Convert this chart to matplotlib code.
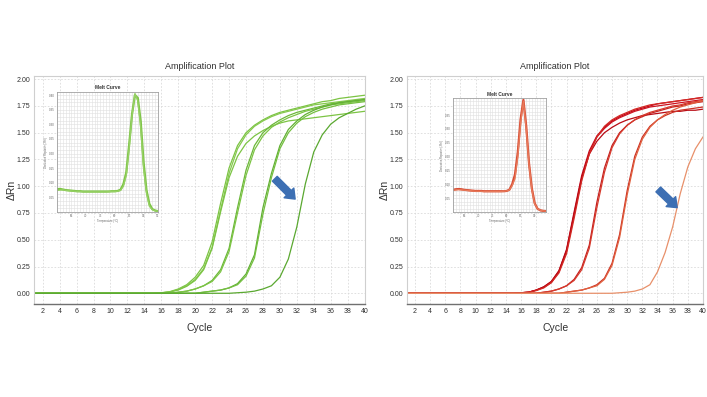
import numpy as np
import matplotlib.pyplot as plt
from matplotlib.patches import FancyArrowPatch
from matplotlib.ticker import FormatStrFormatter, MultipleLocator

plt.rcParams['font.family'] = ['Liberation Sans Narrow', 'Liberation Sans', 'DejaVu Sans']

cycles = list(range(1, 41))

# green run (left panel), delta Rn per cycle
green_a1 = [0, 0, 0, 0, 0, 0, 0, 0, 0, 0,
            0, 0, 0, 0, 0, 0.005, 0.015, 0.04, 0.08, 0.15,
            0.26, 0.48, 0.84, 1.17, 1.38, 1.50, 1.57, 1.62, 1.66, 1.69,
            1.71, 1.73, 1.75, 1.77, 1.79, 1.80, 1.82, 1.83, 1.84, 1.85]
green_a2 = [0, 0, 0, 0, 0, 0, 0, 0, 0, 0,
            0, 0, 0, 0, 0, 0.004, 0.012, 0.035, 0.07, 0.13,
            0.23, 0.43, 0.78, 1.12, 1.35, 1.48, 1.56, 1.61, 1.65, 1.68,
            1.70, 1.72, 1.74, 1.76, 1.77, 1.78, 1.79, 1.80, 1.81, 1.82]
green_a3 = [0, 0, 0, 0, 0, 0, 0, 0, 0, 0,
            0, 0, 0, 0, 0, 0.004, 0.012, 0.03, 0.065, 0.12,
            0.22, 0.42, 0.76, 1.08, 1.28, 1.40, 1.47, 1.52, 1.56, 1.59,
            1.61, 1.62, 1.63, 1.64, 1.65, 1.66, 1.67, 1.68, 1.69, 1.70]
green_b1 = [0, 0, 0, 0, 0, 0, 0, 0, 0, 0,
            0, 0, 0, 0, 0, 0, 0, 0.01, 0.02, 0.04,
            0.07, 0.12, 0.22, 0.42, 0.80, 1.15, 1.38, 1.50, 1.57, 1.62,
            1.66, 1.69, 1.71, 1.73, 1.75, 1.77, 1.78, 1.79, 1.80, 1.81]
green_b2 = [0, 0, 0, 0, 0, 0, 0, 0, 0, 0,
            0, 0, 0, 0, 0, 0, 0, 0.01, 0.02, 0.04,
            0.07, 0.11, 0.20, 0.39, 0.75, 1.10, 1.34, 1.47, 1.55, 1.60,
            1.64, 1.67, 1.70, 1.72, 1.74, 1.76, 1.77, 1.78, 1.79, 1.80]
green_c1 = [0, 0, 0, 0, 0, 0, 0, 0, 0, 0,
            0, 0, 0, 0, 0, 0, 0, 0, 0, 0,
            0.01, 0.02, 0.03, 0.05, 0.09, 0.18, 0.36, 0.80, 1.12, 1.38,
            1.53, 1.61, 1.67, 1.71, 1.74, 1.76, 1.78, 1.79, 1.80, 1.81]
green_c2 = [0, 0, 0, 0, 0, 0, 0, 0, 0, 0,
            0, 0, 0, 0, 0, 0, 0, 0, 0, 0,
            0.01, 0.02, 0.03, 0.05, 0.08, 0.16, 0.33, 0.74, 1.08, 1.35,
            1.50, 1.59, 1.65, 1.69, 1.72, 1.74, 1.76, 1.77, 1.78, 1.79]
green_d1 = [0, 0, 0, 0, 0, 0, 0, 0, 0, 0,
            0, 0, 0, 0, 0, 0, 0, 0, 0, 0,
            0, 0, 0, 0, 0.005, 0.01, 0.02, 0.04, 0.07, 0.15,
            0.32, 0.62, 1.02, 1.32, 1.48, 1.58, 1.64, 1.68, 1.72, 1.75]

# red run (right panel)
red_a1 = [0, 0, 0, 0, 0, 0, 0, 0, 0, 0,
          0, 0, 0, 0, 0, 0.005, 0.01, 0.03, 0.06, 0.11,
          0.21, 0.41, 0.76, 1.10, 1.33, 1.47, 1.55, 1.61, 1.65, 1.68,
          1.71, 1.73, 1.75, 1.77, 1.78, 1.79, 1.80, 1.81, 1.82, 1.83]
red_a2 = [0, 0, 0, 0, 0, 0, 0, 0, 0, 0,
          0, 0, 0, 0, 0, 0.005, 0.01, 0.028, 0.055, 0.10,
          0.20, 0.39, 0.73, 1.07, 1.31, 1.46, 1.54, 1.60, 1.64, 1.67,
          1.70, 1.72, 1.74, 1.75, 1.76, 1.77, 1.78, 1.79, 1.80, 1.81]
red_a3 = [0, 0, 0, 0, 0, 0, 0, 0, 0, 0,
          0, 0, 0, 0, 0, 0.005, 0.01, 0.03, 0.06, 0.11,
          0.21, 0.40, 0.74, 1.08, 1.30, 1.42, 1.50, 1.55, 1.59, 1.62,
          1.64, 1.66, 1.67, 1.68, 1.69, 1.70, 1.70, 1.71, 1.71, 1.72]
red_a4 = [0, 0, 0, 0, 0, 0, 0, 0, 0, 0,
          0, 0, 0, 0, 0, 0.004, 0.01, 0.025, 0.05, 0.10,
          0.19, 0.37, 0.70, 1.05, 1.30, 1.46, 1.56, 1.62, 1.66, 1.69,
          1.72, 1.74, 1.76, 1.77, 1.78, 1.79, 1.80, 1.81, 1.82, 1.83]
red_b1 = [0, 0, 0, 0, 0, 0, 0, 0, 0, 0,
          0, 0, 0, 0, 0, 0, 0, 0, 0.01, 0.02,
          0.04, 0.07, 0.13, 0.24, 0.45, 0.85, 1.17, 1.38, 1.50, 1.57,
          1.62, 1.65, 1.68, 1.70, 1.72, 1.74, 1.75, 1.77, 1.78, 1.79]
red_b2 = [0, 0, 0, 0, 0, 0, 0, 0, 0, 0,
          0, 0, 0, 0, 0, 0, 0, 0, 0.01, 0.02,
          0.04, 0.07, 0.12, 0.22, 0.42, 0.80, 1.13, 1.36, 1.49, 1.57,
          1.62, 1.66, 1.69, 1.71, 1.73, 1.75, 1.76, 1.78, 1.79, 1.80]
red_c1 = [0, 0, 0, 0, 0, 0, 0, 0, 0, 0,
          0, 0, 0, 0, 0, 0, 0, 0, 0, 0,
          0, 0.01, 0.02, 0.03, 0.05, 0.08, 0.14, 0.28, 0.55, 0.96,
          1.28, 1.46, 1.56, 1.62, 1.66, 1.69, 1.71, 1.72, 1.73, 1.74]
red_c2 = [0, 0, 0, 0, 0, 0, 0, 0, 0, 0,
          0, 0, 0, 0, 0, 0, 0, 0, 0, 0,
          0, 0.01, 0.02, 0.03, 0.05, 0.07, 0.13, 0.26, 0.52, 0.92,
          1.25, 1.44, 1.55, 1.62, 1.67, 1.71, 1.74, 1.76, 1.78, 1.80]
red_d1 = [0, 0, 0, 0, 0, 0, 0, 0, 0, 0,
          0, 0, 0, 0, 0, 0, 0, 0, 0, 0,
          0, 0, 0, 0, 0, 0, 0, 0, 0.005, 0.01,
          0.02, 0.04, 0.08, 0.20, 0.38, 0.62, 0.93, 1.18, 1.35, 1.46]

# melt curves (insets)
green_temps = list(range(60, 96))
green_melt = [0.078, 0.079, 0.077, 0.075, 0.074, 0.073, 0.072, 0.071, 0.071, 0.070,
              0.070, 0.070, 0.070, 0.070, 0.070, 0.070, 0.070, 0.070, 0.070, 0.071,
              0.071, 0.072, 0.076, 0.095, 0.135, 0.23, 0.335, 0.40, 0.39, 0.31,
              0.17, 0.075, 0.028, 0.01, 0.005, 0.003]
green_melt2 = [0.074, 0.075, 0.076, 0.074, 0.073, 0.072, 0.071, 0.070, 0.070, 0.069,
               0.069, 0.069, 0.069, 0.069, 0.069, 0.069, 0.069, 0.069, 0.070, 0.070,
               0.070, 0.071, 0.074, 0.088, 0.125, 0.22, 0.33, 0.405, 0.38, 0.29,
               0.15, 0.065, 0.02, 0.008, 0.004, 0.003]
red_temps = list(range(61, 95))
red_melt = [0.080, 0.082, 0.083, 0.082, 0.080, 0.079, 0.078, 0.077, 0.076, 0.076,
            0.076, 0.075, 0.075, 0.075, 0.075, 0.075, 0.075, 0.075, 0.075, 0.076,
            0.080, 0.10, 0.135, 0.215, 0.335, 0.405, 0.31, 0.175, 0.085, 0.032,
            0.012, 0.006, 0.004, 0.003]
red_melt2 = [0.078, 0.080, 0.081, 0.080, 0.079, 0.078, 0.077, 0.076, 0.075, 0.075,
             0.075, 0.074, 0.074, 0.074, 0.074, 0.074, 0.074, 0.074, 0.075, 0.076,
             0.079, 0.095, 0.12, 0.20, 0.32, 0.40, 0.30, 0.17, 0.08, 0.03,
             0.012, 0.006, 0.004, 0.003]

green_series = [(green_a1, '#7cc444'), (green_a2, '#86c94f'), (green_a3, '#7cc444'),
                (green_b1, '#6cb83a'), (green_b2, '#7cc444'), (green_c1, '#62b034'),
                (green_c2, '#74bf40'), (green_d1, '#5aa830')]
red_series = [(red_a1, '#c00018'), (red_a2, '#cc1420'), (red_a3, '#b80a14'),
              (red_a4, '#d42a24'), (red_b1, '#c42020'), (red_b2, '#d63a2c'),
              (red_c1, '#cc3024'), (red_c2, '#e0603e'), (red_d1, '#e8906a')]

fig = plt.figure(figsize=(7.07, 3.97), dpi=100)


def style_main(ax):
    ax.set_xlim(1, 40)
    ax.set_ylim(-0.10, 2.03)
    ax.set_xticks(range(2, 41, 2))
    ax.set_yticks(np.arange(0, 2.01, 0.25))
    ax.yaxis.set_major_formatter(FormatStrFormatter('%.2f'))
    ax.grid(True, color='#dadada', linestyle=(0, (2, 2)), linewidth=0.6)
    ax.set_axisbelow(True)
    ax.tick_params(length=0, labelsize=5, pad=3, colors='#303030')
    for s in ax.spines.values():
        s.set_color('#cfcfcf')
        s.set_linewidth(0.8)
    ax.spines['bottom'].set_color('#707070')
    ax.spines['bottom'].set_linewidth(1.0)
    ax.set_title('Amplification Plot', fontsize=6.5, pad=5, color='#303030')
    ax.set_xlabel('Cycle', fontsize=7.5, labelpad=6, color='#303030')
    ax.set_ylabel('ΔRn', fontsize=7.5, labelpad=0, color='#303030')


def style_inset(ax, xlim, xticks, yticks):
    ax.set_xlim(*xlim)
    ax.set_ylim(0, 0.41)
    ax.set_xticks(xticks)
    ax.set_yticks(yticks)
    ax.xaxis.set_minor_locator(MultipleLocator(1))
    ax.yaxis.set_minor_locator(MultipleLocator(0.0125))
    ax.grid(True, which='both', color='#e0e0e0', linewidth=0.4)
    ax.set_axisbelow(True)
    ax.tick_params(which='both', length=0, labelsize=2.2, pad=1.5, colors='#666666')
    ax.yaxis.set_major_formatter(FormatStrFormatter('%.2f'))
    for s in ax.spines.values():
        s.set_color('#a0a0a0')
        s.set_linewidth(0.6)
    ax.set_title('Melt Curve', fontsize=3.5, fontweight='bold', pad=2, color='#303030')
    ax.set_xlabel('Temperature (°C)', fontsize=2, labelpad=1, color='#666666')
    ax.set_ylabel("Derivative Reporter (-Rn')", fontsize=2, labelpad=1, color='#666666')


def add_arrow(ax, start, end):
    arr = FancyArrowPatch(start, end, arrowstyle='simple,head_length=0.35,head_width=0.55,tail_width=0.27',
                          mutation_scale=18, color='#3d6fb3', shrinkA=0, shrinkB=0, zorder=5)
    ax.add_patch(arr)


# left panel
ax1 = fig.add_axes([0.0484, 0.2343, 0.4673, 0.5743])
for vals, col in green_series:
    ax1.plot(cycles, vals, color=col, linewidth=0.9)
style_main(ax1)
add_arrow(ax1, (29.4, 1.07), (31.8, 0.88))

in1 = fig.add_axes([0.0806, 0.466, 0.1429, 0.302])
in1.plot(green_temps, green_melt, color='#7cc444', linewidth=1.6)
in1.plot(green_temps, green_melt2, color='#96d064', linewidth=1.0)
style_inset(in1, (60, 95), range(65, 96, 5), np.arange(0.05, 0.41, 0.05))

# right panel
ax2 = fig.add_axes([0.5762, 0.2343, 0.4181, 0.5743])
for vals, col in red_series:
    ax2.plot(cycles, vals, color=col, linewidth=0.9)
style_main(ax2)
add_arrow(ax2, (34.1, 0.97), (36.6, 0.80))

in2 = fig.add_axes([0.6407, 0.466, 0.1315, 0.286])
in2.plot(red_temps, red_melt, color='#d84a32', linewidth=1.6)
in2.plot(red_temps, red_melt2, color='#e77a5a', linewidth=1.0)
style_inset(in2, (61, 94), range(65, 91, 5), np.arange(0.05, 0.36, 0.05))

fig.savefig('out.png', dpi=100)
